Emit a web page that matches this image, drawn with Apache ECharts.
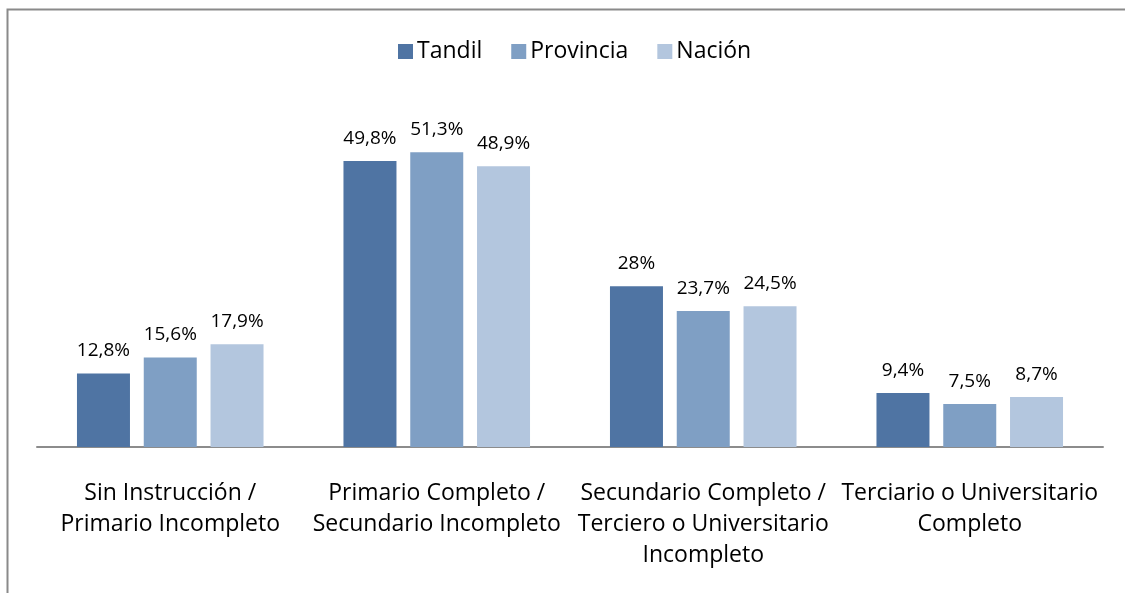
<!DOCTYPE html>
<html>
<head>
<meta charset="utf-8">
<script src="https://cdn.jsdelivr.net/npm/echarts@6/dist/echarts.min.js"></script>
<style>
  html, body { margin: 0; padding: 0; background: #fff; }
  #chart { width: 1125px; height: 593px; }
</style>
</head>
<body>
<div id="chart"></div>
<script>
var categorias = [
    'Sin Instrucción /\nPrimario Incompleto',
    'Primario Completo /\nSecundario Incompleto',
    'Secundario Completo /\nTerciero o Universitario\nIncompleto',
    'Terciario o Universitario\nCompleto'
];
var tandil = [12.8, 49.8, 28, 9.4];
var provincia = [15.6, 51.3, 23.7, 7.5];
var nacion = [17.9, 48.9, 24.5, 8.7];

var fuente = '"Open Sans", sans-serif';

(function () {
    var myChart = echarts.init(document.getElementById('chart'));

    function serie(name, data, color) {
        return {
            name: name,
            type: 'bar',
            data: data,
            barWidth: 53,
            barGap: '26%',
            itemStyle: { color: color },
            label: {
                show: true,
                position: 'top',
                distance: 13,
                fontFamily: fuente,
                fontSize: 19,
                color: '#000',
                formatter: function (p) {
                    return String(p.value).replace('.', ',') + '%';
                }
            }
        };
    }

    var option = {
        backgroundColor: '#fff',
        animation: false,
        graphic: [{
            type: 'rect',
            shape: { x: 7.5, y: 9.5, width: 1300, height: 800 },
            style: { fill: 'none', stroke: '#8a8a8a', lineWidth: 2 },
            silent: true
        }],
        legend: {
            top: 35,
            left: 393,
            itemWidth: 15,
            itemHeight: 15,
            itemGap: 29,
            icon: 'rect',
            textStyle: { fontFamily: fuente, fontSize: 23, color: '#000', padding: [0, 0, 0, -1] },
            data: ['Tandil', 'Provincia', 'Nación']
        },
        grid: {
            left: 37,
            right: 22,
            top: 102.4,
            bottom: 146,
            containLabel: false
        },
        xAxis: {
            type: 'category',
            data: categorias,
            axisLine: { lineStyle: { color: '#8c8c8c', width: 2 } },
            axisTick: { show: false },
            axisLabel: {
                interval: 0,
                margin: 31,
                fontFamily: fuente,
                fontSize: 23,
                lineHeight: 31,
                color: '#000'
            }
        },
        yAxis: {
            type: 'value',
            min: 0,
            max: 60,
            show: false,
            splitLine: { show: false }
        },
        series: [
            serie('Tandil', tandil, '#4f74a3'),
            serie('Provincia', provincia, '#7f9fc4'),
            serie('Nación', nacion, '#b3c6de')
        ]
    };

    myChart.setOption(option);

    window.addEventListener('resize', function () {
        myChart.resize();
    });
})();
</script>
</body>
</html>
